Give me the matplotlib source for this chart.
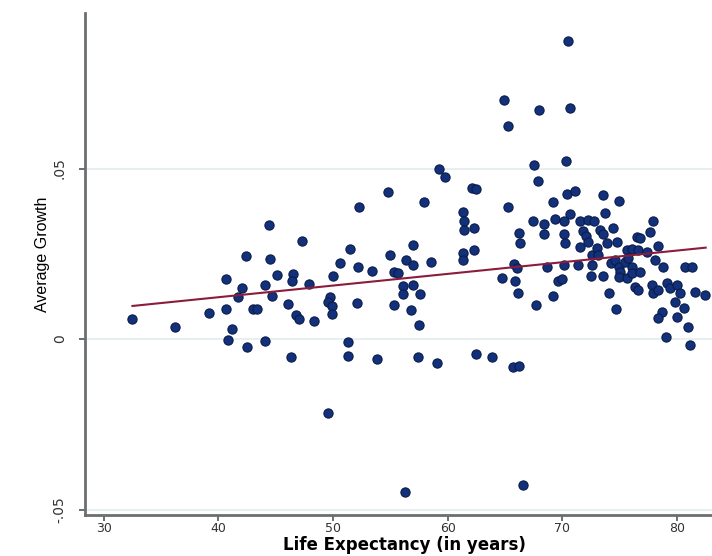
import numpy as np
import matplotlib
matplotlib.use('Agg')
import matplotlib.pyplot as plt

plt.rcParams['font.family'] = ['Liberation Sans', 'DejaVu Sans']

# Esperanza de vida (años) y crecimiento promedio
life_exp = [
    32.5, 36.2, 39.2, 40.7, 40.7, 40.8, 41.2, 42.1, 41.7, 42.4,
    42.5, 43.0, 43.4, 44.1, 44.1, 44.4, 44.5, 44.7, 45.1, 46.1,
    46.3, 46.5, 46.4, 46.8, 47.0, 47.3, 47.9, 48.3, 49.6, 49.7,
    49.6, 49.9, 49.9, 50.0, 51.3, 51.3, 50.6, 51.5, 52.1, 52.2,
    52.3, 53.4, 53.8, 54.8, 55.0, 55.3, 55.7, 55.3, 56.1, 57.0,
    56.1, 57.6, 56.3, 56.4, 57.0, 56.8, 57.0, 57.5, 57.4, 57.9,
    58.5, 59.1, 59.2, 59.8, 61.3, 61.4, 61.4, 62.3, 61.3, 61.3,
    62.3, 62.1, 62.5, 62.5, 63.9, 64.7, 64.9, 65.3, 65.3, 65.7,
    66.2, 65.8, 66.0, 65.9, 66.1, 66.2, 66.3, 66.6, 67.4, 68.4,
    67.5, 67.7, 67.9, 68.0, 68.4, 68.7, 69.2, 69.2, 69.4, 70.1,
    69.6, 70.0, 70.1, 70.1, 70.2, 70.3, 70.4, 70.5, 70.7, 70.7,
    71.1, 71.4, 71.5, 71.8, 72.1, 71.5, 72.2, 72.2, 72.5, 72.6,
    72.6, 72.8, 73.0, 73.1, 73.3, 73.5, 73.5, 73.5, 73.7, 73.9,
    74.1, 74.2, 74.4, 74.6, 74.7, 74.8, 74.9, 74.9, 75.0, 74.9,
    75.5, 75.6, 75.7, 75.6, 76.1, 76.1, 76.1, 76.5, 76.8, 76.6,
    76.3, 76.6, 76.8, 77.4, 77.6, 77.9, 78.1, 78.3, 77.8, 77.9,
    78.3, 78.8, 78.7, 78.3, 79.0, 79.1, 79.4, 79.8, 80.0, 80.3,
    80.0, 80.6, 80.7, 81.3, 81.0, 81.1, 81.6, 82.4,
]
growth = [
    0.0059, 0.0035, 0.0076, 0.0176, 0.0088, -0.0003, 0.0029, 0.0150, 0.0123, 0.0243,
    -0.0023, 0.0088, 0.0088, 0.0158, -0.0006, 0.0334, 0.0235, 0.0126, 0.0188, 0.0103,
    -0.0053, 0.0191, 0.0170, 0.0070, 0.0059, 0.0287, 0.0161, 0.0053, -0.0217, 0.0123,
    0.0109, 0.0097, 0.0073, 0.0185, -0.0009, -0.0050, 0.0223, 0.0264, 0.0106, 0.0211,
    0.0387, 0.0199, -0.0059, 0.0431, 0.0246, 0.0196, 0.0194, 0.0100, 0.0155, 0.0158,
    0.0132, 0.0132, -0.0449, 0.0232, 0.0217, 0.0085, 0.0276, 0.0041, -0.0053, 0.0402,
    0.0226, -0.0070, 0.0499, 0.0475, 0.0372, 0.0346, 0.0320, 0.0326, 0.0252, 0.0232,
    0.0261, 0.0443, 0.0440, -0.0044, -0.0053, 0.0179, 0.0701, 0.0625, 0.0387, -0.0082,
    -0.0079, 0.0220, 0.0208, 0.0170, 0.0135, 0.0311, 0.0282, -0.0428, 0.0346, 0.0337,
    0.0510, 0.0100, 0.0463, 0.0672, 0.0308, 0.0211, 0.0126, 0.0402, 0.0352, 0.0346,
    0.0170, 0.0176, 0.0217, 0.0308, 0.0282, 0.0522, 0.0425, 0.0874, 0.0677, 0.0367,
    0.0434, 0.0217, 0.0346, 0.0317, 0.0302, 0.0270, 0.0284, 0.0349, 0.0185, 0.0246,
    0.0217, 0.0346, 0.0267, 0.0246, 0.0320, 0.0308, 0.0422, 0.0185, 0.0370, 0.0282,
    0.0135, 0.0223, 0.0326, 0.0232, 0.0088, 0.0284, 0.0405, 0.0211, 0.0196, 0.0182,
    0.0226, 0.0261, 0.0238, 0.0179, 0.0264, 0.0211, 0.0194, 0.0299, 0.0296, 0.0261,
    0.0152, 0.0144, 0.0196, 0.0255, 0.0314, 0.0346, 0.0232, 0.0273, 0.0158, 0.0135,
    0.0144, 0.0211, 0.0079, 0.0062, 0.0006, 0.0164, 0.0150, 0.0109, 0.0158, 0.0135,
    0.0065, 0.0091, 0.0211, 0.0211, 0.0035, -0.0018, 0.0138, 0.0129,
]

# Recta de ajuste (extremos)
fit_x = [32.5, 82.5]
fit_y = [0.0097, 0.0268]

x_ticks = [30, 40, 50, 60, 70, 80]
y_ticks = [-0.05, 0, 0.05]
y_tick_labels = ['-.05', '0', '.05']

fig = plt.figure(figsize=(7.12, 5.56), dpi=100)
ax = fig.add_axes([0.119, 0.0737, 0.881, 0.9029])

for yt in y_ticks:
    ax.axhline(yt, color='#e3eeee', linewidth=1.2, zorder=0)

ax.scatter(life_exp, growth, s=44, color='#13307a', edgecolors='#0a1c4a',
           linewidths=0.8, zorder=3)
ax.plot(fit_x, fit_y, color='#8c1c3c', linewidth=1.5, zorder=4)

ax.set_xlim(28.34, 83.05)
ax.set_ylim(-0.0516, 0.0956)
ax.set_xticks(x_ticks)
ax.set_xticklabels([str(t) for t in x_ticks], fontsize=9, color='#333333',
                   family='DejaVu Sans')
ax.set_yticks(y_ticks)
ax.set_yticklabels(y_tick_labels, fontsize=10, rotation=90, va='center',
                   color='#333333', family='DejaVu Sans')

for side in ['top', 'right']:
    ax.spines[side].set_visible(False)
for side in ['left', 'bottom']:
    ax.spines[side].set_color('#6b6f6f')
    ax.spines[side].set_linewidth(2)
ax.tick_params(axis='both', length=4, width=1.2, color='#555555')
ax.tick_params(axis='x', pad=1)
ax.tick_params(axis='y', pad=9)

ax.set_ylabel('Average Growth', fontsize=11.5)
ax.yaxis.set_label_coords(-0.056, 0.52)
ax.set_xlabel('Life Expectancy (in years)', fontsize=12, fontweight='bold',
              family='DejaVu Sans')
ax.xaxis.set_label_coords(0.509, -0.042)

fig.savefig('out.png', dpi=100)
